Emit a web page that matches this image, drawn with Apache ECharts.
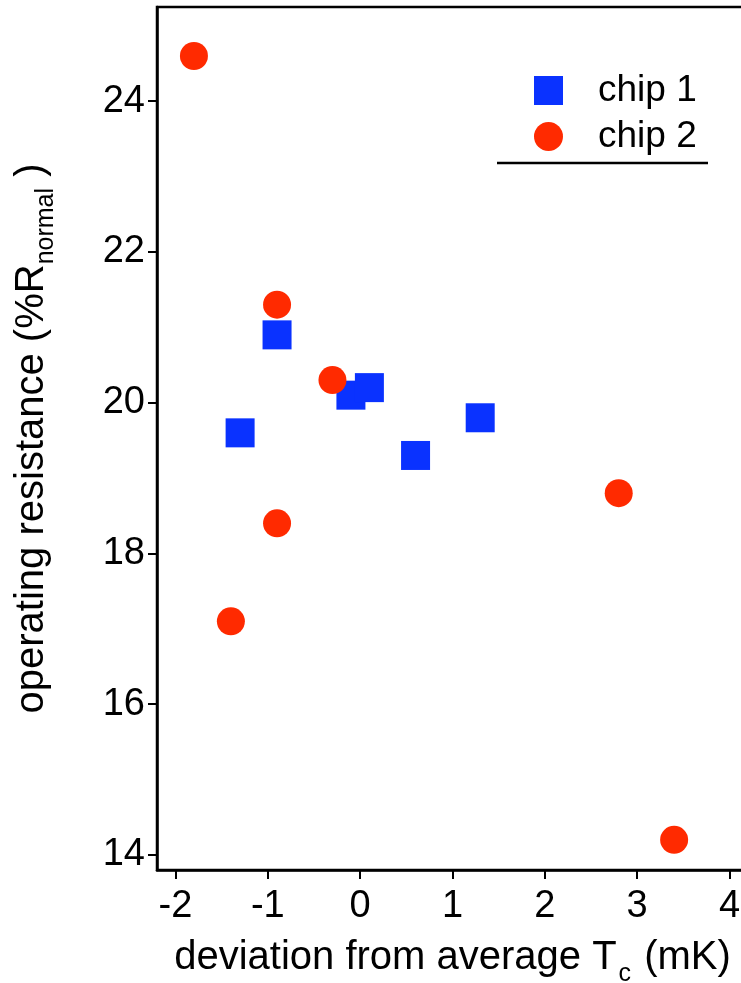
<!DOCTYPE html>
<html>
<head>
<meta charset="utf-8">
<script src="https://cdn.jsdelivr.net/npm/echarts@6/dist/echarts.min.js"></script>
<style>
html,body{margin:0;padding:0;background:#fff;}
#c{width:741px;height:983px;}
</style>
</head>
<body>
<div id="c"></div>
<script>
const chip1X = [-1.3, -0.9, -0.1, 0.1, 0.6, 1.3];
const chip1Y = [19.6, 20.9, 20.1, 20.2, 19.3, 19.8];
const chip2X = [-1.8, -1.4, -0.9, -0.9, -0.3, 2.8, 3.4];
const chip2Y = [24.6, 17.1, 18.4, 21.3, 20.3, 18.8, 14.2];
const xTicks = [-2, -1, 0, 1, 2, 3, 4];
const yTicks = [14, 16, 18, 20, 22, 24];
const seriesNames = ['chip 1', 'chip 2'];

const font = 'Liberation Sans, Arial, Helvetica, sans-serif';
const chart = echarts.init(document.getElementById('c'));
chart.setOption({
  animation: false,
  backgroundColor: '#fff',
  grid: {left: 157, right: -7, top: 7, bottom: 113, show: true, borderColor: '#000', borderWidth: 2.5,
         containLabel: false, outerBoundsMode: 'none'},
  xAxis: {
    type: 'value', min: -2.2, max: 4.2,
    name: '{a|deviation from average T}{b|c}{a| (mK)}',
    nameLocation: 'middle', nameGap: 58,
    nameTextStyle: {rich: {
      a: {fontSize: 40, fontFamily: font, color: '#000'},
      b: {fontSize: 25, fontFamily: font, color: '#000', padding: [34, 2, 0, 2]}
    }},
    axisLine: {show: true, onZero: false, lineStyle: {color: '#000', width: 2.5}},
    axisTick: {show: true, inside: false, length: 9, lineStyle: {color: '#000', width: 2}, customValues: xTicks},
    axisLabel: {fontSize: 38, fontFamily: font, color: '#000', margin: 18, customValues: xTicks, formatter: v => String(v)},
    splitLine: {show: false}
  },
  yAxis: {
    type: 'value', min: 13.8, max: 25.25,
    name: '{a|operating resistance (%R}{b|normal}{a| )}',
    nameLocation: 'middle', nameGap: 98, nameRotate: 90,
    nameTextStyle: {rich: {
      a: {fontSize: 40, fontFamily: font, color: '#000'},
      b: {fontSize: 25, fontFamily: font, color: '#000', padding: [30, 0, 0, 0]}
    }},
    axisLine: {show: true, onZero: false, lineStyle: {color: '#000', width: 2.5}},
    axisTick: {show: true, inside: false, length: 9, lineStyle: {color: '#000', width: 2}, customValues: yTicks},
    axisLabel: {fontSize: 38, fontFamily: font, color: '#000', margin: 12, customValues: yTicks, formatter: v => String(v)},
    splitLine: {show: false}
  },
  legend: {
    orient: 'vertical', left: 529, top: 67,
    itemWidth: 29, itemHeight: 29, itemGap: 9,
    textStyle: {fontSize: 37, fontFamily: font, color: '#000', padding: [0, 0, 0, 30]},
    data: [{name: seriesNames[0], icon: 'rect'}, {name: seriesNames[1], icon: 'circle'}]
  },
  graphic: [{type: 'line', shape: {x1: 497, y1: 163, x2: 708, y2: 163}, style: {stroke: '#000', lineWidth: 2.5}}],
  series: [
    {name: seriesNames[0], type: 'scatter', symbol: 'rect', symbolSize: 29, itemStyle: {color: '#0a32ff', opacity: 1},
     data: chip1X.map((x, i) => [x, chip1Y[i]]), z: 2},
    {name: seriesNames[1], type: 'scatter', symbol: 'circle', symbolSize: 28, itemStyle: {color: '#ff2a00', opacity: 1},
     data: chip2X.map((x, i) => [x, chip2Y[i]]), z: 3}
  ]
});
</script>
</body>
</html>
